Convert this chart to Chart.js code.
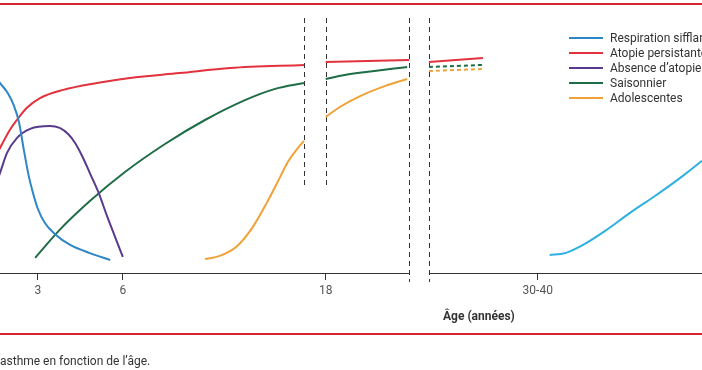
<!DOCTYPE html>
<html>
<head>
<meta charset="utf-8">
<script src="https://cdn.jsdelivr.net/npm/chart.js@4.4.0/dist/chart.umd.min.js"></script>
<style>
  html, body { margin: 0; padding: 0; background: #fff; }
  #wrap { position: relative; width: 702px; height: 370px; }
</style>
</head>
<body>
<div id="wrap"><canvas id="ageChart"></canvas></div>
<script>
// Schematic figure: x = position along the (broken) age axis, 0-100
// y = relative level of the phenotype, 0-100 (axis line = 0)

const tickPos = [5.4, 17.5, 46.4, 76.6];
const tickLabels = ['3', '6', '18', '30-40'];

// the two cuts of the age axis (dashed vertical pairs)
const axisBreaks = [
    { from: 43.3, to: 46.4, bottom: 33.3 },
    { from: 58.3, to: 61.1, bottom: -3.5 }
];

// curves, [x, y] ; null = interruption at an axis cut
const respirationSifflante = [
    [-0.7, 77.3], [0, 74.5], [1.1, 70.6], [2.0, 65.5], [2.7, 59.2], [3.4, 48.2],
    [4.1, 38.0], [4.7, 31.4], [5.4, 25.1], [6.4, 19.6], [7.8, 15.3],
    [10.0, 11.0], [12.8, 7.8], [15.7, 5.1]
];
const atopiePersistante = [
    [-0.7, 45.1], [0, 49.0], [1.4, 56.1], [2.4, 60.0], [3.8, 64.7], [5.7, 68.6],
    [9.0, 71.8], [13.8, 74.5], [18.5, 76.5], [25.6, 78.4], [32.8, 80.4], [43.3, 81.6],
    [44.8, null],
    [46.4, 82.7], [58.3, 83.5],
    [59.7, null],
    [61.1, 82.7], [68.8, 84.3]
];
const absenceAtopie = [
    [-0.7, 33.7], [0, 39.2], [1.0, 47.1], [2.4, 52.9], [4.3, 56.5], [7.1, 57.6],
    [8.5, 56.9], [9.7, 54.5], [10.7, 51.0], [11.7, 45.9], [12.8, 39.2],
    [14.0, 31.8], [15.2, 22.7], [16.4, 14.1], [17.5, 6.3]
];
const saisonnier = [
    [5.0, 5.9], [8.5, 16.9], [12.8, 28.2], [17.8, 39.6], [23.5, 50.6],
    [29.2, 60.0], [34.9, 67.8], [39.2, 72.2], [43.3, 74.5],
    [44.8, null],
    [46.4, 76.1], [49.9, 78.0], [58.0, 80.8],
    [59.7, null],
    [61.1, 80.8], [68.8, 81.6]
];
const adolescentes = [
    [29.2, 5.5], [31.3, 6.7], [33.8, 10.6], [36.0, 18.0], [38.0, 27.5], [39.9, 37.6],
    [41.0, 43.5], [42.2, 48.2], [43.3, 51.8],
    [44.8, null],
    [46.4, 61.2], [48.4, 65.1], [51.3, 69.4], [54.8, 73.3], [58.0, 76.1],
    [59.7, null],
    [61.1, 79.2], [68.8, 80.0]
];
const asthmeTardif = [
    [78.3, 7.1], [80.5, 7.8], [83.3, 11.4], [86.2, 16.5], [89.7, 23.5],
    [93.3, 30.2], [96.9, 37.3], [100, 44.0], [101.5, 47.5]
];

const colors = {
    blue: '#2d86c6',
    red: '#e2323d',
    purple: '#5a3a8c',
    green: '#1f6d47',
    orange: '#f0a238',
    cyan: '#2fb0e2',
    frame: '#d8242f',
    axis: '#333333',
    text: '#333333'
};

const FONT = "Roboto, 'Liberation Sans', sans-serif";

function toPoints(arr) {
    return arr.map(p => ({ x: p[0], y: p[1] }));
}

function curve(label, pts, color, opts) {
    return Object.assign({
        label: label,
        data: toPoints(pts),
        borderColor: color,
        backgroundColor: color,
        borderWidth: 2,
        pointRadius: 0,
        fill: false,
        spanGaps: false,
        cubicInterpolationMode: 'monotone',
        inLegend: true
    }, opts || {});
}

// segments past the second cut are drawn dashed (projection to adulthood)
const dashedAfter = x => ({
    borderDash: ctx => ctx.p0.parsed.x >= x ? [4, 3] : undefined
});

// frame, broken axis, cuts, axis title, caption and legend
const decorPlugin = {
    id: 'decor',
    beforeDatasetsDraw(chart) {
        const ctx = chart.ctx;
        const xs = chart.scales.x, ys = chart.scales.y;
        const area = chart.chartArea;
        ctx.save();
        ctx.strokeStyle = colors.axis;
        ctx.lineWidth = 1;
        // axis line, interrupted at the second cut
        const yAxis = Math.round(area.bottom) + 0.5;
        const cut = axisBreaks[1];
        ctx.beginPath();
        ctx.moveTo(area.left, yAxis);
        ctx.lineTo(xs.getPixelForValue(cut.from), yAxis);
        ctx.moveTo(xs.getPixelForValue(cut.to), yAxis);
        ctx.lineTo(area.right, yAxis);
        ctx.stroke();
        // dashed cut marks
        ctx.setLineDash([5, 4]);
        axisBreaks.forEach(b => {
            [b.from, b.to].forEach(v => {
                const px = Math.round(xs.getPixelForValue(v)) + 0.5;
                ctx.beginPath();
                ctx.moveTo(px, area.top);
                ctx.lineTo(px, ys.getPixelForValue(b.bottom));
                ctx.stroke();
            });
        });
        ctx.restore();
    },
    afterDraw(chart) {
        const ctx = chart.ctx;
        ctx.save();
        // red rules of the figure frame
        ctx.fillStyle = colors.frame;
        ctx.fillRect(0, 3, chart.width, 2);
        ctx.fillRect(0, 333, chart.width, 2);

        // axis title
        ctx.fillStyle = colors.text;
        ctx.font = 'bold 12px ' + FONT;
        ctx.textBaseline = 'middle';
        ctx.textAlign = 'left';
        ctx.fillText('Âge (années)', 443, 317);

        // caption (cut on the left in the source)
        ctx.font = '12px ' + FONT;
        ctx.fillStyle = '#333';
        ctx.fillText('asthme en fonction de l’âge.', 0, 362);

        // legend
        ctx.font = '12px ' + FONT;
        let row = 0;
        chart.data.datasets.forEach(ds => {
            if (!ds.inLegend) return;
            const y = 38 + row * 15;
            ctx.strokeStyle = ds.borderColor;
            ctx.lineWidth = 2;
            ctx.beginPath();
            ctx.moveTo(569, y);
            ctx.lineTo(603, y);
            ctx.stroke();
            ctx.fillStyle = colors.text;
            ctx.fillText(ds.label, 610, y + 1);
            row++;
        });
        ctx.restore();
    }
};

document.addEventListener('DOMContentLoaded', function() {
    const canvas = document.getElementById('ageChart');
    canvas.width = 702;
    canvas.height = 370;

    new Chart(canvas, {
        type: 'line',
        data: {
            datasets: [
                curve('Respiration sifflante transitoire', respirationSifflante, colors.blue),
                curve('Atopie persistante', atopiePersistante, colors.red),
                curve('Absence d’atopie', absenceAtopie, colors.purple),
                curve('Saisonnier', saisonnier, colors.green, { segment: dashedAfter(60) }),
                curve('Adolescentes', adolescentes, colors.orange, { segment: dashedAfter(60) }),
                curve('Asthme tardif', asthmeTardif, colors.cyan, { inLegend: false })
            ]
        },
        options: {
            responsive: false,
            animation: false,
            layout: { padding: { top: 18, left: 0, right: 0, bottom: 0 } },
            plugins: {
                legend: { display: false },
                tooltip: { enabled: false }
            },
            scales: {
                x: {
                    type: 'linear',
                    min: 0,
                    max: 100,
                    afterBuildTicks: scale => {
                        scale.ticks = tickPos.map(v => ({ value: v }));
                    },
                    afterFit: scale => { scale.height = 97; },
                    border: { display: false },
                    grid: {
                        drawOnChartArea: false,
                        drawTicks: true,
                        tickLength: 7,
                        color: colors.axis
                    },
                    ticks: {
                        autoSkip: false,
                        maxRotation: 0,
                        padding: 4,
                        color: '#555',
                        font: { family: FONT, size: 12 },
                        callback: (value, index) => tickLabels[index]
                    }
                },
                y: {
                    display: false,
                    min: 0,
                    max: 100
                }
            }
        },
        plugins: [decorPlugin]
    });
});
</script>
</body>
</html>
